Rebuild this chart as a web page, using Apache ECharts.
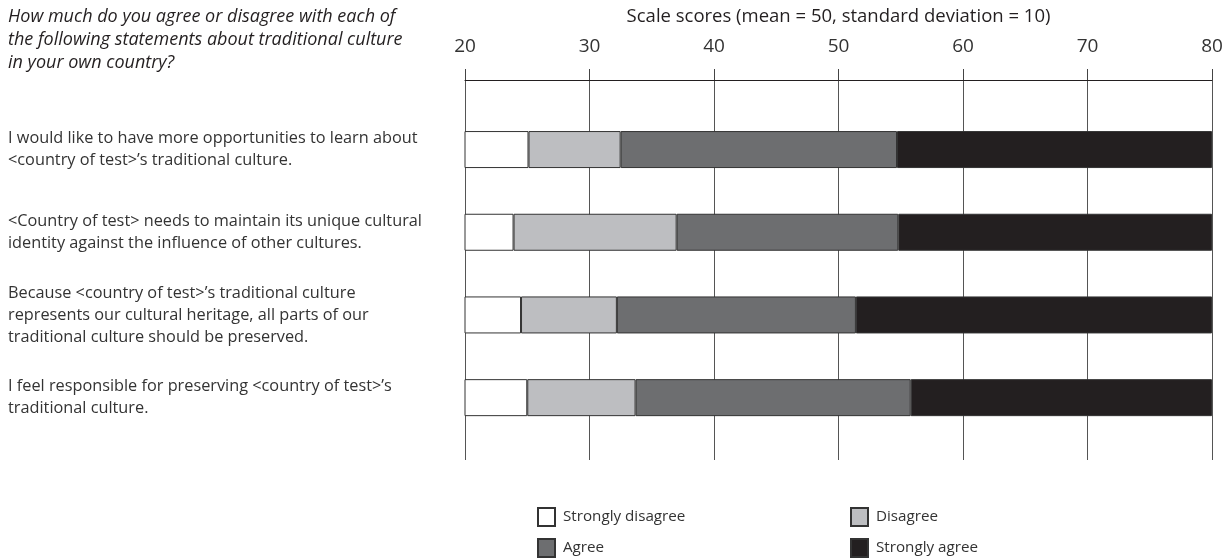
<!DOCTYPE html>
<html>
<head>
<meta charset="utf-8">
<script src="https://cdn.jsdelivr.net/npm/echarts@6/dist/echarts.min.js"></script>
<style>
html,body{margin:0;padding:0;background:#fff;}
#chart{width:1227px;height:560px;}
</style>
</head>
<body>
<div id="chart"></div>
<script>
// ---- Data ----
const question = "How much do you agree or disagree with each of\nthe following statements about traditional culture\nin your own country?";
const categories = [
  "I would like to have more opportunities to learn about\n<country of test>\u2019s traditional culture.",
  "<Country of test> needs to maintain its unique cultural\nidentity against the influence of other cultures.",
  "Because <country of test>\u2019s traditional culture\nrepresents our cultural heritage, all parts of our\ntraditional culture should be preserved.",
  "I feel responsible for preserving <country of test>\u2019s\ntraditional culture."
];
// Scale-score thresholds where each response category ends
const endStronglyDisagree = [25.1, 23.9, 24.5, 25.0];
const endDisagree = [32.5, 37.0, 32.2, 33.7];
const endAgree = [54.7, 54.8, 51.4, 55.8];
const scaleMax = 80;
const tickLabels = [20, 30, 40, 50, 60, 70, 80];
const seriesNames = ["Strongly disagree", "Disagree", "Agree", "Strongly agree"];
const seriesColors = ["#ffffff", "#bdbec1", "#6d6e70", "#231f20"];

// ---- Build stacked widths ----
const segStart = endStronglyDisagree.slice();
const segDis = endDisagree.map((v, i) => +(v - endStronglyDisagree[i]).toFixed(2));
const segAgr = endAgree.map((v, i) => +(v - endDisagree[i]).toFixed(2));
const segSA = endAgree.map(v => +(scaleMax - v).toFixed(2));
const segData = [segStart, segDis, segAgr, segSA];

const FONT = "'Open Sans', 'Noto Sans', sans-serif";
const TXT = "#231f20";

const chart = echarts.init(document.getElementById('chart'), null, {renderer: 'canvas'});

const graphics = [{
  type: 'text', left: 8, top: 5,
  style: { text: question, font: "italic 18px " + FONT, fill: TXT, lineHeight: 23 }
}];

const legendPos = [[537, 507], [850, 507], [537, 538], [850, 538]];
const legends = seriesNames.map((n, i) => ({
  data: [n], left: legendPos[i][0], top: legendPos[i][1],
  orient: 'horizontal', icon: 'rect', itemWidth: 17, itemHeight: 18, itemGap: 8,
  selectedMode: false, padding: 0,
  textStyle: { fontFamily: FONT, fontSize: 15.2, color: '#333333', padding: [0, 0, 0, 3] }
}));

const option = {
  animation: false,
  backgroundColor: '#ffffff',
  graphic: graphics,
  legend: legends,
  grid: [
    { left: 465, right: 15, top: 108.2, height: 330.8, containLabel: false },
    { left: 465, right: 15, top: 80, height: 380, containLabel: false }
  ],
  xAxis: [
    { gridIndex: 0, type: 'value', min: 20, max: 80, interval: 10, show: false },
    {
      gridIndex: 1, type: 'value', position: 'top', min: 20, max: 80, interval: 10,
      name: 'Scale scores (mean = 50, standard deviation = 10)',
      nameLocation: 'middle', nameGap: 54,
      nameTextStyle: { fontFamily: FONT, fontSize: 18.5, color: TXT },
      axisLine: { show: true, onZero: false, lineStyle: { color: '#231f20', width: 1 } },
      axisTick: { show: true, inside: false, length: 11, lineStyle: { color: '#444', width: 1 } },
      axisLabel: {
        fontFamily: FONT, fontSize: 19, color: '#333333', margin: 24,
        formatter: v => tickLabels.includes(v) ? String(v) : ''
      },
      splitLine: { show: true, lineStyle: { color: '#555555', width: 1 } }
    }
  ],
  yAxis: [
    {
      gridIndex: 0, type: 'category', data: categories, inverse: true,
      axisLine: { show: false }, axisTick: { show: false }, splitLine: { show: false },
      axisLabel: {
        show: true, align: 'left', margin: 457, interval: 0,
        fontFamily: FONT, fontSize: 16.3, lineHeight: 22, color: '#333333'
      }
    },
    { gridIndex: 1, type: 'value', show: false }
  ],
  series: seriesNames.map((n, i) => ({
    name: n, type: 'bar', stack: 'total', xAxisIndex: 0, yAxisIndex: 0,
    barWidth: 37, clip: true,
    itemStyle: { color: seriesColors[i], borderColor: '#333333', borderWidth: 1 },
    data: segData[i]
  }))
};
chart.setOption(option);
</script>
</body>
</html>
